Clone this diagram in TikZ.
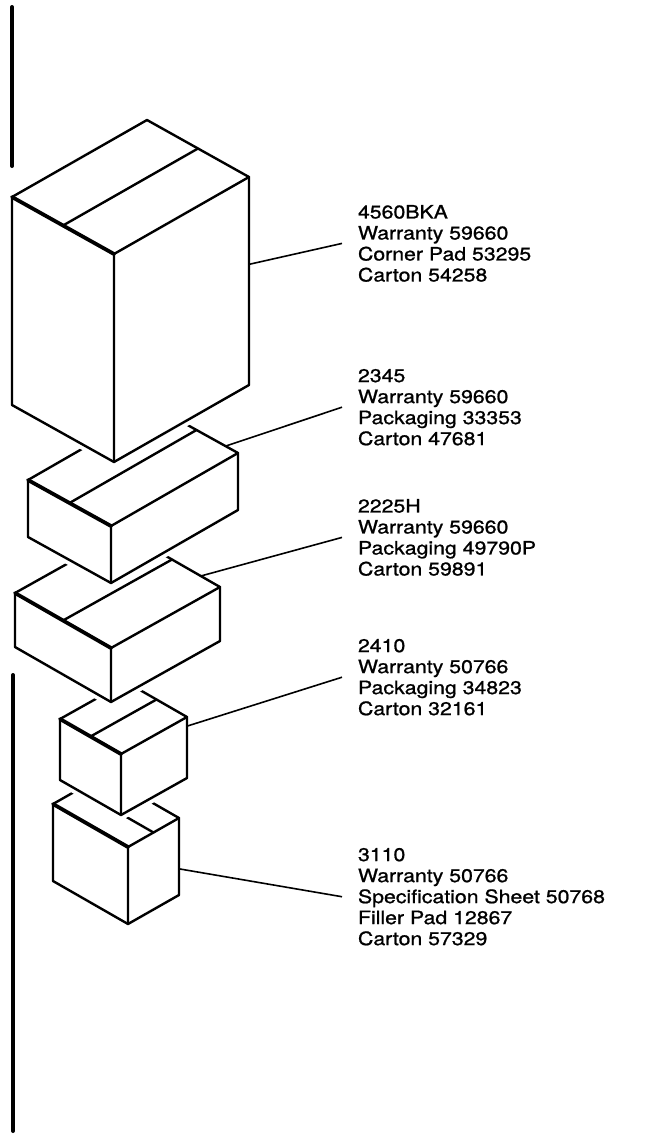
\documentclass[tikz,border=0pt]{standalone}
\usepackage{fontspec}
\usepackage{tikz}
\usetikzlibrary{calc}
\newfontfamily\partfont[FakeStretch=1.15,FakeBold=1]{TeX Gyre Heros}

\newcommand{\carton}[9]{%
  \coordinate (#1L) at (#2);
  \coordinate (#1F) at (#3);
  \coordinate (#1R) at (#4);
  \coordinate (#1B) at ($(#1L)+(#1R)-(#1F)$);
  \coordinate (#1LB) at ($(#1L)+(0,#5)$);
  \coordinate (#1FB) at ($(#1F)+(0,#5)$);
  \coordinate (#1RB) at ($(#1R)+(0,#5)$);
  \filldraw[halo] (#1L) -- (#1B) -- (#1R) -- (#1RB) -- (#1FB) -- (#1LB) -- cycle;
  \draw[box edge] (#1L) -- (#1B) -- (#1R) -- (#1RB) -- (#1FB) -- (#1LB) -- cycle;
  \draw[box edge] (#1R) -- (#1F) -- (#1FB);
  \draw[heavy edge] (#1L) -- (#1F);
  \draw[box edge] ($(#1#6)!0.5!(#1#7)$) -- ($(#1#8)!0.5!(#1#9)$);
}

\begin{document}
\begin{tikzpicture}[x=1pt,y=-1pt,
                    box edge/.style={line width=2.4pt,line cap=round,line join=round},
                    heavy edge/.style={line width=3.8pt,line cap=round},
                    halo/.style={fill=white,draw=white,line width=10pt,line join=round},
                    leader/.style={line width=1.6pt},
                    bar/.style={line width=4pt,line cap=round},
                    part label/.style={align=left,anchor=north west,inner sep=0pt,outer xsep=16pt,outer ysep=0pt,
                                       font=\partfont\fontsize{18.5}{21}\selectfont}]
\fill[white] (0,0) rectangle (662,1135);
\useasboundingbox (0,0) rectangle (662,1135);

\carton{Box5}{53,804}{128,847}{179,818}{77}{L}{B}{F}{R}
\carton{Box4}{60,719}{121,754}{187,717}{61}{L}{F}{B}{R}
\carton{Box3}{15,593}{111,648}{220,587}{54}{L}{F}{B}{R}
\carton{Box2}{28,480}{111,526}{238,453}{57}{L}{F}{B}{R}
\carton{Box1}{12,197}{114,254}{249,177}{208}{L}{F}{B}{R}

\coordinate (Box1Tip) at ($(Box1R)!0.42!(Box1RB)$);
\coordinate (Box2Tip) at ($(Box2B)!0.85!(Box2R)$);
\coordinate (Box3Tip) at ($(Box3B)!0.8!(Box3R)$);
\coordinate (Box4Tip) at ($(Box4R)!0.15!(Box4RB)$);
\coordinate (Box5Tip) at ($(Box5R)!0.66!(Box5RB)$);

\node[part label] (Box1Text) at (342,205) {4560BKA\\Warranty 59660\\Corner Pad 53295\\Carton 54258};
\node[part label] (Box2Text) at (342,369) {2345\\Warranty 59660\\Packaging 33353\\Carton 47681};
\node[part label] (Box3Text) at (342,499) {2225H\\Warranty 59660\\Packaging 49790P\\Carton 59891};
\node[part label] (Box4Text) at (342,639) {2410\\Warranty 50766\\Packaging 34823\\Carton 32161};
\node[part label] (Box5Text) at (342,848) {3110\\Warranty 50766\\Specification Sheet 50768\\Filler Pad 12867\\Carton 57329};

\foreach \b in {1,...,5}
  \draw[leader] (Box\b Tip) -- (Box\b Text.west);

\coordinate (TopBarStart) at (12,7);
\coordinate (TopBarEnd) at (12,166);
\coordinate (LowBarStart) at (13,675);
\coordinate (LowBarEnd) at (13,1131);
\draw[bar] (TopBarStart) -- (TopBarEnd);
\draw[bar] (LowBarStart) -- (LowBarEnd);
\end{tikzpicture}
\end{document}
